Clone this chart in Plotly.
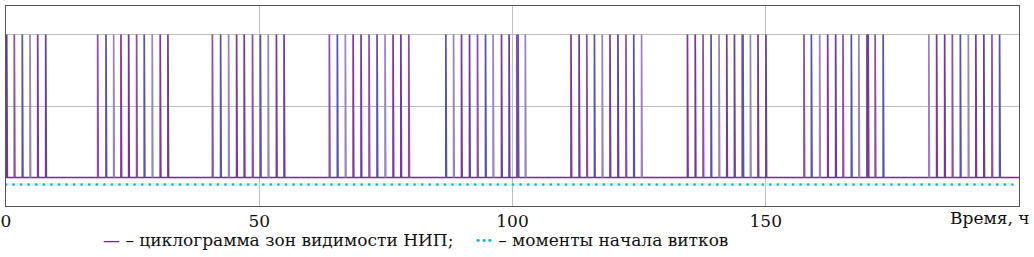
import plotly.graph_objects as go

# Visibility-zone pulse start times, hours
pulse_starts = [
    0.14, 1.64, 3.22, 4.74, 6.26, 7.84,
    18.10, 19.74, 21.26, 22.70, 24.22, 25.79, 27.29, 28.87, 30.45, 31.97,
    40.75, 42.37, 43.95, 45.53, 47.03, 48.67, 50.23, 51.77, 53.39, 54.90,
    63.84, 65.42, 67.00, 68.54, 70.10, 71.68, 73.26, 74.84, 76.42, 77.96, 79.53,
    86.84, 88.37, 89.93, 91.51, 93.09, 94.67, 96.17, 97.83, 99.33, 100.85, 101.10, 102.53,
    111.55, 113.15, 114.67, 116.18, 117.72, 119.25, 120.82, 122.40, 123.94, 125.48,
    134.54, 136.08, 137.62, 139.20, 140.78, 142.30, 143.82, 145.35, 145.50, 146.97, 148.47, 150.04,
    157.55, 159.01, 160.65, 162.23, 163.80, 165.25, 166.90, 168.38, 169.98, 170.22, 171.60, 173.18,
    182.20, 183.74, 185.32, 186.84, 188.42, 190.00, 191.48, 193.06, 194.66, 196.17,
]
pulse_width_h = 0.12

# Orbit start moments, hours
orbit_starts = [
    0.00, 1.49, 2.99, 4.48, 5.98, 7.47, 8.96, 10.46, 11.95, 13.45,
    14.94, 16.43, 17.93, 19.42, 20.92, 22.41, 23.90, 25.40, 26.89, 28.39,
    29.88, 31.37, 32.87, 34.36, 35.86, 37.35, 38.84, 40.34, 41.83, 43.33,
    44.82, 46.31, 47.81, 49.30, 50.80, 52.29, 53.78, 55.28, 56.77, 58.27,
    59.76, 61.25, 62.75, 64.24, 65.74, 67.23, 68.72, 70.22, 71.71, 73.21,
    74.70, 76.19, 77.69, 79.18, 80.68, 82.17, 83.66, 85.16, 86.65, 88.15,
    89.64, 91.13, 92.63, 94.12, 95.62, 97.11, 98.60, 100.10, 101.59, 103.09,
    104.58, 106.07, 107.57, 109.06, 110.56, 112.05, 113.54, 115.04, 116.53, 118.03,
    119.52, 121.01, 122.51, 124.00, 125.50, 126.99, 128.48, 129.98, 131.47, 132.97,
    134.46, 135.95, 137.45, 138.94, 140.44, 141.93, 143.42, 144.92, 146.41, 147.91,
    149.40, 150.89, 152.39, 153.88, 155.38, 156.87, 158.36, 159.86, 161.35, 162.85,
    164.34, 165.83, 167.33, 168.82, 170.32, 171.81, 173.30, 174.80, 176.29, 177.79,
    179.28, 180.77, 182.27, 183.76, 185.26, 186.75, 188.24, 189.74, 191.23, 192.73,
    194.22, 195.71, 197.21, 198.70,
]
orbit_marker_level = -0.05

x_range = [0, 200]
x_ticks = [0, 50, 100, 150]
x_tick_labels = ["0", "50", "100", "150"]
x_title = "Время, ч"
legend_cyclogram = "– циклограмма зон видимости НИП;"
legend_orbits = "– моменты начала витков"

palette = ["#6a3c9e", "#8d4ea5", "#5752ad", "#9a84ba", "#7a3a95"]
base_color = "#762a86"
cyan = "#1fb0c2"
font_family = "DejaVu Serif"

fig = go.Figure()

# baseline
fig.add_trace(go.Scatter(x=x_range, y=[0, 0], mode="lines",
                         line=dict(color=base_color, width=1.6),
                         hoverinfo="skip", showlegend=False))

# pulses grouped by colour
groups = {c: ([], []) for c in palette}
for i, t in enumerate(pulse_starts):
    c = palette[i % len(palette)]
    xs, ys = groups[c]
    xs += [t, t, t + pulse_width_h, t + pulse_width_h, None]
    ys += [0, 1, 1, 0, None]
for c, (xs, ys) in groups.items():
    fig.add_trace(go.Scatter(x=xs, y=ys, mode="lines",
                             line=dict(color=c, width=1.7),
                             hoverinfo="skip", showlegend=False))

# orbit start dots
fig.add_trace(go.Scatter(x=[orbit_starts[0], orbit_starts[-1]],
                         y=[orbit_marker_level] * 2, mode="lines",
                         line=dict(color="rgba(170,235,245,0.5)", width=3),
                         hoverinfo="skip", showlegend=False))
fig.add_trace(go.Scatter(x=orbit_starts, y=[orbit_marker_level] * len(orbit_starts),
                         mode="markers",
                         marker=dict(color=cyan, size=2.6, symbol="circle"),
                         hoverinfo="skip", showlegend=False))

fig.update_xaxes(range=x_range, tickvals=x_ticks, ticktext=x_tick_labels,
                 showgrid=True, gridcolor="#bdbdbd", gridwidth=1,
                 showline=True, linecolor="#555555", linewidth=1, mirror=True,
                 ticks="", zeroline=False, ticklabelstandoff=0,
                 tickfont=dict(family=font_family, size=17, color="#111111"))
fig.update_yaxes(range=[-0.2, 1.2], tickvals=[0, 0.5, 1], showticklabels=False,
                 showgrid=True, gridcolor="#bdbdbd", gridwidth=1,
                 showline=True, linecolor="#555555", linewidth=1, mirror=True,
                 ticks="", zeroline=False)

fig.add_annotation(x=1.012, y=-0.0, xref="paper", yref="paper",
                   xanchor="right", yanchor="top", showarrow=False,
                   text=x_title, font=dict(family=font_family, size=17, color="#111111"))
fig.add_annotation(x=0.094, y=-0.108, xref="paper", yref="paper",
                   xanchor="left", yanchor="top", showarrow=False,
                   text=f"<span style='color:{base_color}'>—</span> {legend_cyclogram}"
                        f"&nbsp;&nbsp;&nbsp; <span style='color:{cyan}'><b>···</b></span> {legend_orbits}",
                   font=dict(family=font_family, size=17, color="#111111"))

fig.update_layout(width=1034, height=257,
                  margin=dict(l=6, r=15, t=6, b=51, autoexpand=False),
                  paper_bgcolor="white", plot_bgcolor="white",
                  font=dict(family=font_family),
                  showlegend=False)

fig.write_html("out.html", config={"displayModeBar": False},
               post_script="document.body.style.margin='0';")
